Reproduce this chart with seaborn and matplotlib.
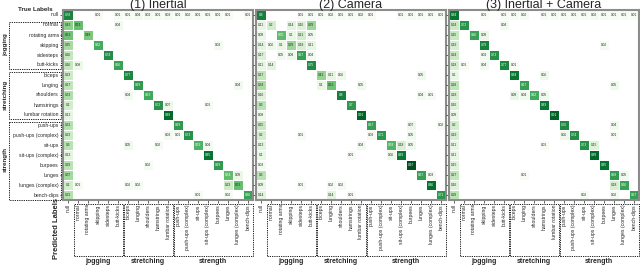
import numpy as np
import matplotlib
matplotlib.use('Agg')
import matplotlib.pyplot as plt
import seaborn as sns
from matplotlib.patches import Rectangle
from matplotlib.transforms import blended_transform_factory

classes = ['null', 'normal', 'rotating arms', 'skipping', 'sidesteps', 'butt-kicks',
           'biceps', 'lunging', 'shoulders', 'hamstrings', 'lumbar rotation',
           'push-ups', 'push-ups (complex)', 'sit-ups', 'sit-ups (complex)',
           'burpees', 'lunges', 'lunges (complex)', 'bench-dips']
groups = [('jogging', 1, 6), ('stretching', 6, 11), ('strength', 11, 19)]
titles = ['(1) Inertial', '(2) Camera', '(3) Inertial + Camera']

inertial = [
    [0.78, 0, 0, 0.01, 0, 0.01, 0.01, 0.04, 0.03, 0.01, 0.03, 0.01, 0.02, 0.01, 0.01, 0.01, 0.01, 0, 0.01],
    [0.43, 0.53, 0, 0, 0, 0.04, 0, 0, 0, 0, 0, 0, 0, 0, 0, 0, 0, 0, 0],
    [0.51, 0, 0.48, 0, 0, 0, 0, 0, 0, 0, 0, 0, 0, 0, 0, 0, 0, 0, 0],
    [0.35, 0, 0, 0.62, 0, 0, 0, 0, 0, 0, 0, 0, 0, 0, 0, 0.03, 0, 0, 0],
    [0.26, 0, 0, 0, 0.74, 0, 0, 0, 0, 0, 0, 0, 0, 0, 0, 0, 0, 0, 0],
    [0.26, 0.08, 0, 0, 0, 0.66, 0, 0, 0, 0, 0, 0, 0, 0, 0, 0, 0, 0, 0],
    [0.23, 0, 0, 0, 0, 0, 0.77, 0, 0, 0, 0, 0, 0, 0, 0, 0, 0, 0, 0],
    [0.27, 0, 0, 0, 0, 0, 0, 0.69, 0, 0, 0, 0, 0, 0, 0, 0, 0, 0.04, 0],
    [0.33, 0, 0, 0, 0, 0, 0.04, 0, 0.63, 0, 0, 0, 0, 0, 0, 0, 0, 0, 0],
    [0.2, 0, 0, 0, 0, 0, 0, 0, 0, 0.72, 0.07, 0, 0, 0, 0.01, 0, 0, 0, 0],
    [0.12, 0, 0, 0, 0, 0, 0, 0, 0, 0, 0.88, 0, 0, 0, 0, 0, 0, 0, 0],
    [0.31, 0, 0, 0, 0, 0, 0, 0, 0, 0, 0, 0.69, 0, 0, 0, 0, 0, 0, 0],
    [0.23, 0, 0, 0, 0, 0, 0, 0, 0, 0, 0.03, 0.01, 0.73, 0, 0, 0, 0, 0, 0],
    [0.3, 0, 0, 0, 0, 0, 0.05, 0, 0, 0.02, 0, 0, 0, 0.59, 0.04, 0, 0, 0, 0],
    [0.13, 0, 0, 0, 0, 0, 0, 0, 0, 0, 0, 0, 0, 0, 0.85, 0, 0, 0, 0],
    [0.29, 0, 0, 0, 0, 0, 0, 0, 0.02, 0, 0, 0, 0, 0, 0, 0.69, 0, 0, 0],
    [0.37, 0, 0, 0, 0, 0, 0, 0, 0, 0, 0, 0, 0, 0, 0, 0, 0.54, 0.09, 0],
    [0.2, 0.01, 0, 0, 0, 0, 0.02, 0.02, 0, 0, 0, 0, 0, 0, 0, 0, 0.23, 0.53, 0],
    [0.31, 0, 0, 0, 0, 0, 0, 0, 0, 0, 0, 0, 0, 0.01, 0, 0, 0.02, 0, 0.66],
]

camera = [
    [0.8, 0, 0, 0, 0.01, 0.01, 0.01, 0.02, 0.01, 0.01, 0.02, 0.01, 0, 0, 0.01, 0.01, 0.01, 0.01, 0.01],
    [0.11, 0.2, 0, 0.14, 0.16, 0.39, 0, 0, 0, 0, 0, 0, 0, 0, 0, 0, 0, 0, 0],
    [0.09, 0, 0.55, 0.1, 0.21, 0.05, 0, 0, 0, 0, 0, 0, 0, 0, 0, 0, 0, 0, 0],
    [0.14, 0.06, 0.1, 0.39, 0.18, 0.11, 0, 0, 0, 0, 0, 0, 0, 0, 0, 0, 0, 0, 0],
    [0.17, 0, 0.05, 0.08, 0.67, 0.04, 0, 0, 0, 0, 0, 0, 0, 0, 0, 0, 0, 0, 0],
    [0.11, 0.14, 0, 0, 0, 0.75, 0, 0, 0, 0, 0, 0, 0, 0, 0, 0, 0, 0, 0],
    [0.27, 0, 0, 0, 0, 0, 0.41, 0.11, 0.06, 0, 0, 0, 0, 0, 0, 0, 0.05, 0, 0],
    [0.34, 0, 0, 0, 0, 0, 0.1, 0.51, 0, 0, 0.05, 0, 0, 0, 0, 0, 0, 0, 0],
    [0.16, 0, 0, 0, 0, 0, 0, 0, 0.8, 0, 0, 0, 0, 0, 0, 0, 0.04, 0.01, 0],
    [0.3, 0, 0, 0, 0, 0, 0, 0, 0, 0.7, 0, 0, 0, 0, 0, 0, 0, 0, 0],
    [0.08, 0, 0, 0, 0, 0, 0, 0, 0, 0, 0.91, 0, 0, 0, 0, 0, 0, 0, 0],
    [0.25, 0, 0, 0, 0, 0, 0, 0, 0, 0, 0, 0.67, 0, 0, 0, 0.07, 0, 0, 0.02],
    [0.2, 0, 0, 0, 0.01, 0, 0, 0, 0, 0, 0, 0.03, 0.71, 0, 0, 0.05, 0, 0, 0],
    [0.13, 0, 0, 0, 0, 0, 0, 0, 0, 0, 0.04, 0, 0, 0.58, 0.18, 0.05, 0, 0, 0],
    [0.1, 0, 0, 0, 0, 0, 0, 0, 0, 0.01, 0, 0, 0, 0.06, 0.83, 0, 0, 0, 0],
    [0.03, 0, 0, 0, 0, 0, 0, 0, 0, 0, 0, 0, 0, 0, 0, 0.97, 0, 0, 0],
    [0.3, 0, 0, 0, 0, 0, 0, 0, 0, 0, 0, 0, 0, 0, 0, 0, 0.67, 0.03, 0],
    [0.09, 0, 0, 0, 0.01, 0, 0, 0.02, 0.02, 0, 0, 0, 0, 0, 0, 0, 0, 0.86, 0],
    [0.14, 0, 0, 0, 0, 0, 0, 0.14, 0, 0.01, 0, 0, 0, 0, 0, 0, 0, 0, 0.71],
]

combined = [
    [0.84, 0, 0, 0.01, 0, 0.01, 0.01, 0.02, 0, 0.01, 0.01, 0.01, 0.01, 0.01, 0.02, 0.01, 0.01, 0.01, 0.01],
    [0.24, 0.72, 0, 0, 0, 0.04, 0, 0, 0, 0, 0, 0, 0, 0, 0, 0, 0, 0, 0],
    [0.25, 0, 0.66, 0.09, 0, 0, 0, 0, 0, 0, 0, 0, 0, 0, 0, 0, 0, 0, 0],
    [0.19, 0, 0, 0.79, 0, 0, 0, 0, 0, 0, 0, 0, 0, 0, 0, 0.02, 0, 0, 0],
    [0.24, 0, 0, 0.03, 0.73, 0, 0, 0, 0, 0, 0, 0, 0, 0, 0, 0, 0, 0, 0],
    [0.18, 0.01, 0, 0.04, 0, 0.77, 0.01, 0, 0, 0, 0, 0, 0, 0, 0, 0, 0, 0, 0],
    [0.1, 0, 0, 0, 0, 0, 0.84, 0, 0, 0.06, 0, 0, 0, 0, 0, 0, 0, 0, 0],
    [0.28, 0, 0, 0, 0, 0, 0, 0.67, 0, 0, 0, 0, 0, 0, 0, 0, 0.05, 0, 0],
    [0.18, 0, 0, 0, 0, 0, 0.09, 0.04, 0.62, 0.05, 0, 0, 0, 0, 0, 0, 0, 0, 0],
    [0.16, 0, 0, 0, 0, 0, 0, 0, 0, 0.83, 0, 0, 0, 0, 0, 0, 0, 0, 0],
    [0.09, 0, 0, 0, 0, 0, 0, 0, 0, 0, 0.91, 0, 0, 0, 0, 0, 0, 0, 0],
    [0.2, 0, 0, 0, 0, 0, 0, 0, 0, 0, 0, 0.76, 0, 0, 0, 0, 0.04, 0, 0],
    [0.19, 0, 0, 0, 0, 0, 0, 0, 0, 0, 0, 0.06, 0.74, 0, 0, 0, 0.01, 0, 0],
    [0.11, 0, 0, 0, 0, 0, 0, 0, 0, 0.01, 0, 0, 0, 0.73, 0.15, 0, 0, 0, 0],
    [0.11, 0, 0, 0, 0, 0, 0, 0, 0, 0, 0, 0, 0, 0, 0.89, 0, 0, 0, 0],
    [0.15, 0, 0, 0, 0, 0, 0, 0, 0, 0, 0, 0, 0, 0, 0, 0.85, 0, 0, 0],
    [0.27, 0, 0, 0, 0, 0, 0, 0.01, 0, 0, 0, 0, 0, 0, 0, 0, 0.68, 0.05, 0],
    [0.16, 0, 0, 0, 0, 0, 0, 0, 0, 0, 0, 0, 0, 0, 0, 0, 0.18, 0.66, 0],
    [0.29, 0, 0, 0, 0, 0, 0, 0, 0, 0, 0, 0, 0, 0.02, 0, 0, 0.02, 0, 0.67],
]

# --- plotting ---
sns.set_style('white')
plt.rcParams['font.family'] = ['Liberation Sans', 'DejaVu Sans']

W, H = 640, 267
fig = plt.figure(figsize=(W / 100, H / 100), dpi=100)
lefts = [63, 256, 449]
top, size = 10, 190
dash = (0, (1.5, 1.2))

for i, (mat, title) in enumerate(zip([inertial, camera, combined], titles)):
    ax = fig.add_axes([lefts[i] / W, 1 - (top + size) / H, size / W, size / H])
    m = np.array(mat, dtype=float)
    annot = np.array([[f'{v:g}' if v > 0 else '' for v in row] for row in m])
    sns.heatmap(m, mask=(m == 0), annot=annot, fmt='', cmap='Greens', vmin=0, vmax=1,
                cbar=False, linewidths=0.6, linecolor='white',
                annot_kws={'fontsize': 2.3}, xticklabels=classes,
                yticklabels=classes if i == 0 else False, ax=ax)
    ax.set_yticks(np.arange(len(classes)) + 0.5)
    if i > 0:
        ax.set_yticklabels([])
    ax.tick_params(left=True, bottom=True, length=2, width=0.5, pad=1, labelsize=3.7)
    ax.set_xticklabels(classes, rotation=90)
    for s in ax.spines.values():
        s.set_visible(True)
        s.set_color('#8c8c8c')
        s.set_linewidth(1.5)
    ax.set_title(title, fontsize=9, pad=1.5)

    # dashed group boxes under the x tick labels
    tx = blended_transform_factory(ax.transData, ax.transAxes)
    for name, a, b in groups:
        ax.add_patch(Rectangle((a + 0.1, -0.293), b - a - 0.15, 0.272, transform=tx,
                               fill=False, ls=dash, lw=0.6, color='black', clip_on=False))
        ax.text((a + b) / 2, -0.305, name, transform=tx, ha='center', va='top',
                fontsize=5, fontweight='bold')

    # dashed group boxes beside the y tick labels (first panel only)
    if i == 0:
        ty = blended_transform_factory(ax.transAxes, ax.transData)
        for name, a, b in groups:
            ax.add_patch(Rectangle((-0.284, a + 0.15), 0.274, b - a - 0.2, transform=ty,
                                   fill=False, ls=dash, lw=0.6, color='black', clip_on=False))
            ax.text(-0.302, (a + b) / 2, name, transform=ty, rotation=90, ha='center',
                    va='center', fontsize=4.5, fontweight='bold')

fig.text(35 / W, 1 - 9.5 / H, 'True Labels', ha='center', va='center',
         fontsize=4.5, fontweight='bold')
fig.text(57 / W, 1 - 228 / H, 'Predicted Labels', ha='center', va='center',
         rotation=90, fontsize=5.5, fontweight='bold')

fig.savefig('out.png', dpi=100)
